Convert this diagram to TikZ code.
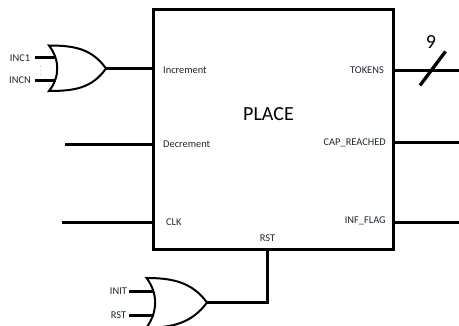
\documentclass[tikz,border=0pt]{standalone}
\usepackage{fontspec}
\setmainfont{Carlito}
\definecolor{lblcol}{HTML}{20262E}
\begin{document}
\begin{tikzpicture}[x=1pt,y=-1pt,
  wire/.style={line width=3.3pt,black},
  gateline/.style={line width=2pt,black,line join=miter},
  lbl/.style={inner sep=0pt,font=\fontsize{10.4pt}{12pt}\selectfont,text=lblcol},
  title/.style={inner sep=0pt,font=\fontsize{20pt}{22pt}\selectfont,text=black}]
\useasboundingbox (0,0) rectangle (459,326);
\clip (0,0) rectangle (459,326);
% place box
\node[draw,line width=3.3pt,outer sep=0pt,minimum width=240pt,minimum height=240pt,inner sep=0pt,anchor=center] (box) at (273.5,129.5) {};
\node[title] (place) at (268.5,114.5) {PLACE};
% box edge points
\coordinate (inE) at (153.5,68.5);
\coordinate (decE) at (153.5,144.5);
\coordinate (clkE) at (153.5,222.5);
\coordinate (tokE) at (393.5,70.5);
\coordinate (capE) at (393.5,142.5);
\coordinate (infE) at (393.5,222.5);
\coordinate (rstE) at (267.5,249.5);
% free ends
\coordinate (decS) at (65,144.5);
\coordinate (clkS) at (62,222.5);
\coordinate (tokS) at (459,70.5);
\coordinate (capS) at (459,142.5);
\coordinate (infS) at (459,222.5);
\coordinate (slashA) at (420,85.5);
\coordinate (slashB) at (445.5,51.5);
% labels
\node[lbl,anchor=west] (lInc) at (163,70) {Increment};
\node[lbl,anchor=west] (lDec) at (163,144) {Decrement};
\node[lbl,anchor=west] (lClk) at (166,222) {CLK};
\node[lbl,anchor=east] (lTok) at (384,70.5) {TOKENS};
\node[lbl,anchor=east] (lCap) at (386,142.5) {CAP\_REACHED};
\node[lbl,anchor=east] (lInf) at (386,221) {INF\_FLAG};
\node[lbl] (lRst) at (267.5,238.5) {RST};
\node[title] (nine) at (431,42) {9};
% top OR gate
\coordinate (g1T) at (49,45.5);
\coordinate (g1B) at (49,91);
\coordinate (g1O) at (106,68.5);
\draw[gateline] (g1T) .. controls (60,60) and (60,77) .. (g1B)
  .. controls (75,91) and (92,88) .. (g1O)
  .. controls (92,49) and (75,45.5) .. (g1T) -- cycle;
\coordinate (g1a) at (55.5,57.5);
\coordinate (g1b) at (55.5,80.5);
\coordinate (w1a) at (35,57.5);
\coordinate (w1b) at (35,80.5);
\draw[wire] (w1a) -- (g1a);
\draw[wire] (w1b) -- (g1b);
\draw[wire] (g1O) -- (inE);
\node[lbl] (in1) at (20,58) {INC1};
\node[lbl] (inN) at (20,80) {INCN};
\node[inner sep=0pt,font=\fontsize{6pt}{6pt}\selectfont,text=black!60] (dots) at (40.5,68.5) {$\vdots$};
% bottom OR gate
\coordinate (g2T) at (146.5,278);
\coordinate (g2B) at (146.5,327.5);
\coordinate (g2O) at (207,302.5);
\draw[gateline] (g2T) .. controls (158,293) and (158,312) .. (g2B)
  .. controls (172,328) and (192,323) .. (g2O)
  .. controls (192,282) and (172,278) .. (g2T) -- cycle;
\coordinate (g2a) at (153.5,291.5);
\coordinate (g2b) at (153.5,315.5);
\coordinate (w2a) at (129,291.5);
\coordinate (w2b) at (129,315.5);
\draw[wire] (w2a) -- (g2a);
\draw[wire] (w2b) -- (g2b);
\draw[wire,line join=miter] (g2O) -| (rstE);
\node[lbl] (init) at (118.5,291) {INIT};
\node[lbl] (rst2) at (118.5,315) {RST};
% other wires
\draw[wire] (decS) -- (decE);
\draw[wire] (clkS) -- (clkE);
\draw[wire] (tokE) -- (tokS);
\draw[wire] (capE) -- (capS);
\draw[wire] (infE) -- (infS);
\draw[wire] (slashA) -- (slashB);
\end{tikzpicture}
\end{document}
